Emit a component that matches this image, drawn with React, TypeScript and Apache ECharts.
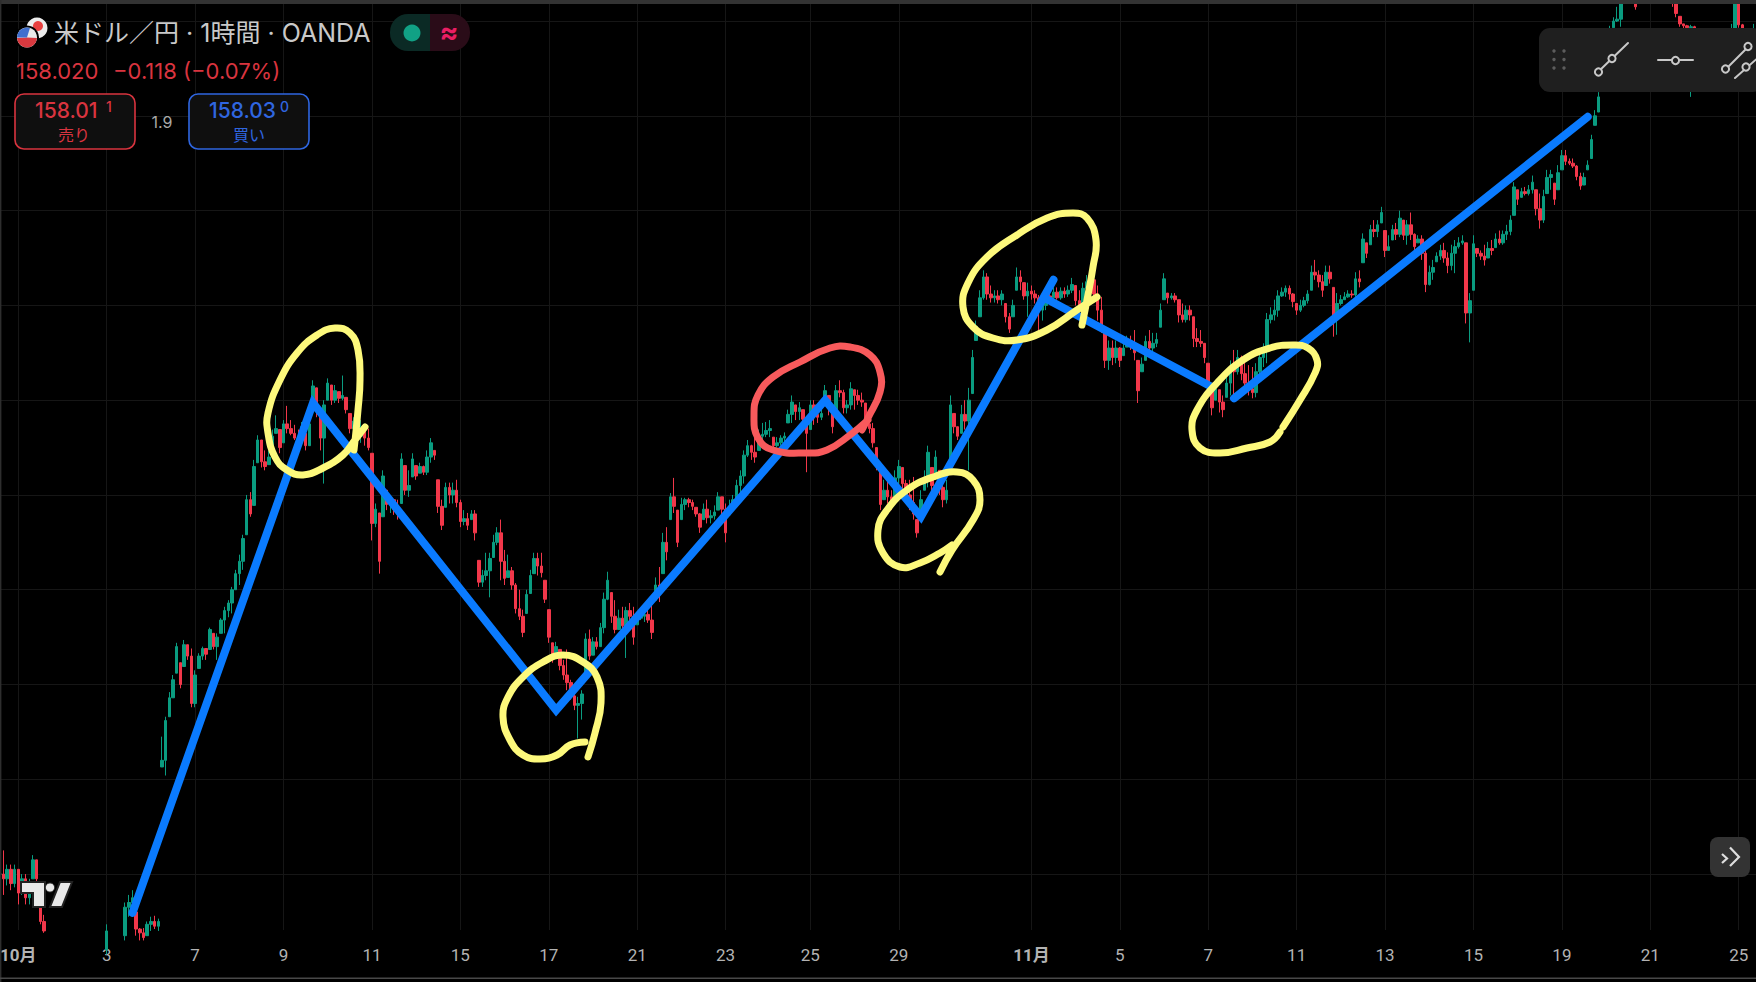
import React, { useEffect, useRef } from "react";
import * as echarts from "echarts";

// One entry per two-hour step (line k holds bars 10k..10k+9).
const closes = [
148.00,147.95,148.05,147.90,148.05,147.80,147.95,147.75,147.85,148.15,
147.95,147.50,147.40,147.15,147.08,147.00,147.05,147.02,146.90,146.95,
147.00,147.08,147.12,147.10,147.05,147.10,147.18,147.15,147.20,147.40,
147.18,147.25,147.30,147.35,147.65,147.70,147.75,147.42,147.38,147.33,
147.47,147.50,147.45,147.50,149.20,149.62,149.86,150.05,150.40,150.00,
150.42,150.30,149.80,150.10,150.30,150.38,150.32,150.58,150.40,150.50,
150.68,150.78,150.86,151.00,151.17,151.30,151.54,151.95,151.80,152.30,
152.58,152.35,152.30,152.40,152.62,152.70,152.50,152.75,152.70,152.65,
152.60,152.55,152.72,152.52,152.75,153.15,152.90,152.60,152.95,153.18,
153.00,153.10,153.02,153.05,152.90,152.70,152.78,152.62,152.72,152.60,
152.50,151.70,151.85,151.30,152.20,151.90,151.95,151.85,151.80,152.38,
152.05,152.10,152.38,152.20,152.30,152.24,152.40,152.55,152.42,151.88,
151.68,152.08,152.00,152.05,151.92,151.72,151.75,151.68,151.80,151.60,
151.08,151.15,151.20,151.33,151.50,151.60,151.30,151.12,151.20,151.05,
150.80,150.72,150.55,150.95,151.15,151.33,151.25,151.18,150.90,150.50,
150.28,150.40,150.20,150.10,150.02,149.88,149.78,149.80,149.90,150.48,
150.30,150.45,150.40,150.60,150.90,151.10,150.72,150.58,150.70,150.62,
150.78,150.72,150.50,150.70,150.72,150.74,150.68,150.55,151.05,150.95,
151.50,151.40,151.98,151.88,151.50,151.90,151.95,151.92,151.88,151.80,
151.66,151.85,151.76,151.78,151.82,151.98,151.85,151.60,151.88,151.95,
152.10,152.20,152.42,152.52,152.45,152.40,152.62,152.64,152.68,152.70,
152.52,152.55,152.60,152.62,152.85,152.98,152.88,152.92,152.80,152.65,
152.95,152.85,152.82,152.86,153.10,152.92,152.72,153.10,153.08,152.92,
152.95,153.12,153.05,153.00,152.98,152.75,152.70,152.55,152.30,151.90,
152.05,151.98,151.90,152.18,152.30,152.12,152.00,151.92,151.80,151.60,
151.95,152.18,152.45,152.10,152.40,152.08,151.95,152.05,152.95,152.72,
152.62,152.85,152.78,153.00,153.45,153.78,154.08,154.30,154.12,154.08,
154.10,154.06,154.12,153.88,153.75,154.00,154.30,154.25,154.10,154.15,
154.12,154.08,153.95,154.00,154.10,154.08,154.14,154.08,154.15,154.12,
154.16,154.22,154.05,153.98,154.18,154.25,154.28,154.12,153.95,153.78,
153.42,153.55,153.45,153.55,153.42,153.55,153.62,153.58,153.50,153.10,
153.38,153.62,153.55,153.60,153.64,153.95,154.28,154.08,154.10,154.06,
153.90,153.85,153.95,153.90,153.65,153.62,153.60,153.45,153.18,152.92,
153.12,152.98,152.90,153.18,153.35,153.30,153.45,153.28,153.18,153.12,
153.08,153.30,153.45,153.55,153.85,153.90,153.95,154.10,154.14,154.18,
154.12,154.04,153.95,154.00,154.05,154.12,154.35,154.32,154.25,154.16,
154.35,154.28,153.85,154.02,154.06,154.09,154.12,154.11,154.28,154.25,
154.70,154.55,154.80,154.78,154.85,154.98,154.58,154.62,154.80,154.75,
154.92,154.74,154.85,154.75,154.62,154.70,154.55,154.22,154.35,154.40,
154.52,154.58,154.50,154.42,154.55,154.62,154.66,154.68,153.92,154.05,
154.65,154.55,154.52,154.48,154.60,154.58,154.70,154.66,154.75,154.78,
154.90,155.25,155.12,155.20,155.18,155.22,155.30,155.02,154.90,155.15,
155.35,155.38,155.12,155.40,155.58,155.52,155.50,155.47,155.36,155.26,
155.35,155.48,155.75,156.00,156.20,156.50,156.72,156.90,157.00,157.02,
157.30,157.45,157.62,157.40,157.15,157.38,157.48,157.62,157.78,157.65,
157.52,157.60,157.50,157.55,157.20,157.08,156.97,156.95,156.93,156.94,
156.78,156.65,156.50,156.55,156.62,156.58,156.65,156.72,156.68,156.80,
156.92,157.30,156.96,156.82,156.72,156.78,156.90,
];
const highs = [
148.36,148.25,148.10,148.10,148.10,148.05,148.00,148.00,147.95,148.20,
148.15,147.68,147.57,147.35,147.25,147.20,147.15,147.18,147.10,147.05,
147.10,147.15,147.20,147.25,147.22,147.18,147.25,147.30,147.28,147.47,
147.35,147.30,147.38,147.40,147.70,147.78,147.83,147.60,147.43,147.43,
147.50,147.55,147.56,147.53,149.45,149.66,149.92,150.10,150.44,150.23,
150.47,150.42,150.38,150.15,150.33,150.40,150.38,150.60,150.54,150.54,
150.70,150.82,150.89,151.03,151.21,151.37,151.58,152.00,152.03,152.37,
152.63,152.58,152.47,152.47,152.69,152.84,152.69,152.79,152.94,152.79,
152.74,152.69,152.77,152.65,152.79,153.21,153.13,152.86,153.00,153.23,
153.16,153.16,153.09,153.26,153.03,152.86,152.82,152.79,152.79,152.74,
152.70,152.44,151.91,151.81,152.26,152.05,151.98,151.95,151.95,152.44,
152.31,152.26,152.44,152.31,152.34,152.31,152.47,152.60,152.47,152.16,
151.95,152.13,152.13,152.13,152.16,151.95,151.84,151.81,151.84,151.84,
151.31,151.21,151.39,151.39,151.58,151.66,151.74,151.42,151.37,151.24,
151.07,151.00,150.79,151.00,151.21,151.39,151.39,151.39,151.10,150.79,
150.44,150.45,150.37,150.26,150.37,150.05,149.94,149.87,149.94,150.54,
150.58,150.50,150.50,150.65,150.97,151.19,150.97,150.89,150.79,150.82,
150.82,150.86,150.82,150.75,150.75,150.79,150.79,150.89,151.13,151.24,
151.60,151.66,152.02,152.18,151.84,151.97,151.97,151.97,151.95,151.87,
151.81,151.91,151.95,151.84,151.89,152.03,151.98,151.91,151.95,152.00,
152.16,152.26,152.47,152.58,152.53,152.63,152.69,152.76,152.77,152.79,
152.61,152.61,152.63,152.66,152.90,153.05,152.95,152.98,152.90,152.82,
153.00,153.00,152.90,152.92,153.16,153.05,152.90,153.16,153.21,153.11,
153.00,153.19,153.11,153.11,153.08,152.97,152.84,152.76,152.50,152.26,
152.16,152.16,152.05,152.26,152.37,152.29,152.16,152.16,152.19,151.74,
152.05,152.26,152.52,152.29,152.47,152.26,152.16,152.16,153.05,152.86,
152.72,152.95,153.00,153.13,153.53,153.84,154.16,154.37,154.34,154.21,
154.16,154.16,154.16,154.02,153.92,154.06,154.40,154.37,154.24,154.24,
154.21,154.16,154.11,154.06,154.16,154.16,154.19,154.19,154.19,154.19,
154.21,154.29,154.21,154.16,154.24,154.32,154.37,154.27,154.21,154.09,
153.71,153.63,153.63,153.63,153.56,153.63,153.68,153.68,153.74,153.42,
153.45,153.68,153.74,153.71,153.71,154.02,154.34,154.13,154.13,154.13,
154.06,154.02,154.00,154.00,153.88,153.76,153.74,153.60,153.39,153.14,
153.18,153.11,153.05,153.24,153.42,153.53,153.53,153.47,153.42,153.37,
153.35,153.39,153.53,153.60,153.92,153.98,154.06,154.16,154.19,154.21,
154.21,154.13,154.02,154.06,154.09,154.16,154.42,154.48,154.37,154.32,
154.42,154.42,154.19,154.13,154.11,154.14,154.16,154.16,154.35,154.37,
154.76,154.66,154.85,154.90,154.90,155.04,154.79,154.74,154.85,154.87,
155.00,154.90,154.90,154.98,154.76,154.74,154.74,154.58,154.42,154.48,
154.56,154.64,154.66,154.56,154.64,154.69,154.72,154.74,154.66,154.13,
154.74,154.60,154.58,154.64,154.67,154.69,154.76,154.79,154.79,154.85,
154.95,155.30,155.22,155.24,155.25,155.27,155.37,155.22,155.18,155.22,
155.43,155.43,155.29,155.48,155.64,155.64,155.55,155.55,155.48,155.40,
155.40,155.53,155.80,156.06,156.25,156.59,156.80,156.95,157.04,157.15,
157.40,157.55,157.70,157.60,157.50,157.45,157.55,157.70,157.85,157.89,
157.75,157.70,157.72,157.65,157.60,157.30,157.05,156.97,156.96,156.96,
156.95,156.85,156.75,156.60,156.70,156.72,156.70,156.80,156.85,156.90,
156.97,157.40,157.30,156.97,156.88,156.85,156.97,
];
const lows = [
147.88,147.78,147.88,147.83,147.86,147.68,147.78,147.68,147.68,147.95,
147.90,147.47,147.38,147.10,147.02,146.95,146.90,146.95,146.85,146.80,
146.88,146.92,147.00,147.02,147.00,146.95,147.05,147.08,147.05,147.15,
147.10,147.08,147.15,147.12,147.30,147.55,147.62,147.35,147.30,147.30,
147.35,147.40,147.42,147.40,149.13,149.04,149.66,149.86,150.12,149.96,
150.19,150.26,149.76,149.76,150.17,150.26,150.26,150.37,150.37,150.26,
150.54,150.54,150.71,150.75,151.00,151.05,151.21,151.58,151.77,151.89,
152.34,152.29,152.26,152.32,152.47,152.65,152.44,152.55,152.65,152.63,
152.58,152.50,152.58,152.47,152.52,153.00,152.82,152.47,152.12,153.00,
152.95,152.97,152.97,153.00,152.86,152.65,152.47,152.58,152.55,152.52,
152.47,151.52,151.66,151.17,151.77,151.84,151.81,151.79,151.74,151.91,
152.00,151.98,152.19,152.16,152.23,152.21,152.21,152.34,152.37,151.81,
151.63,151.87,151.91,151.91,151.87,151.66,151.68,151.63,151.74,151.52,
151.03,151.03,151.10,150.92,151.34,151.47,151.10,151.05,151.13,151.00,
150.75,150.68,150.50,150.75,150.96,151.17,151.15,151.13,150.86,150.44,
150.23,150.29,150.15,150.05,149.94,149.84,149.73,149.43,149.63,150.05,
150.26,150.31,150.37,150.40,150.54,150.89,150.65,150.54,150.58,150.58,
150.28,150.68,150.42,150.63,150.68,150.66,150.65,150.48,150.89,150.87,
151.17,151.31,151.74,151.81,151.45,151.74,151.84,151.87,151.84,151.77,
151.60,151.74,151.70,151.70,151.74,151.84,151.79,151.50,151.79,151.84,
151.95,152.02,152.12,152.40,152.37,152.34,152.47,152.58,152.61,152.61,
152.47,152.50,152.52,152.55,152.76,152.76,152.79,152.79,152.74,152.24,
152.69,152.74,152.76,152.79,153.00,152.84,152.65,152.90,153.03,152.86,
152.86,152.90,152.90,152.95,152.93,152.69,152.65,152.50,152.26,151.84,
151.95,151.91,151.84,151.98,152.10,152.05,151.91,151.84,151.74,151.55,
151.81,152.05,152.08,152.02,152.19,152.00,151.87,151.91,152.37,152.65,
152.58,152.65,152.69,152.26,153.07,153.63,153.88,154.06,154.06,154.03,
154.03,154.02,154.00,153.82,153.71,153.88,154.16,154.16,154.06,153.88,
154.06,154.02,153.68,153.84,153.95,154.02,154.06,154.06,154.06,154.08,
154.09,154.13,154.00,153.93,153.92,154.08,154.09,154.06,153.84,153.71,
153.34,153.32,153.37,153.39,153.35,153.47,153.56,153.53,153.42,152.97,
153.30,153.42,153.47,153.45,153.56,153.77,154.06,154.02,154.06,154.03,
153.82,153.82,153.82,153.84,153.56,153.56,153.56,153.39,153.11,152.84,
153.00,152.87,152.82,153.03,153.05,153.00,153.27,153.21,153.11,153.05,
153.02,153.03,153.27,153.35,153.39,153.81,153.84,153.88,154.09,154.09,
154.06,153.98,153.90,153.93,153.98,154.02,154.16,154.27,154.19,154.09,
154.21,154.23,153.67,153.69,154.00,154.06,154.08,154.08,154.09,154.19,
154.45,154.50,154.64,154.72,154.72,154.87,154.51,154.58,154.69,154.69,
154.72,154.69,154.64,154.69,154.58,154.66,154.48,154.14,154.21,154.27,
154.46,154.48,154.45,154.34,154.37,154.34,154.60,154.64,153.81,153.61,
154.16,154.51,154.48,154.42,154.50,154.53,154.61,154.64,154.64,154.69,
154.74,154.95,155.06,155.14,155.16,155.16,155.18,154.95,154.81,154.87,
155.18,155.22,155.06,155.22,155.43,155.48,155.48,155.45,155.32,155.22,
155.27,155.43,155.55,155.90,156.04,156.27,156.48,156.75,156.93,156.99,
156.94,157.25,157.40,157.35,157.12,157.20,157.30,157.40,157.55,157.60,
157.45,157.40,157.45,157.35,157.15,157.04,156.94,156.92,156.90,156.20,
156.70,156.60,156.45,156.35,156.48,156.50,156.45,156.55,156.60,156.62,
156.75,156.90,156.93,156.75,156.65,156.60,156.70,
];

// Hand-drawn trend strokes: bar step and price of each vertex.
const trendOneSteps = [36, 85, 151, 224, 250, 286];
const trendOnePrices = [147.59, 152.97, 149.73, 153.0, 151.77, 154.27];
const trendTwoSteps = [284, 329];
const trendTwoPrices = [154.07, 153.14];
const trendThreeSteps = [335, 431];
const trendThreePrices = [153.02, 155.99];

const tickSteps = [5, 29, 53, 77, 101, 125, 149, 173, 197, 220, 244, 280, 304, 328, 352, 376, 400, 424, 448, 472];
const tickLabels = ["10月", "3", "7", "9", "11", "15", "17", "21", "23", "25", "29", "11月", "5", "7", "11", "13", "15", "19", "21", "25"];
const stepCount = 478;

const labelAt = new Map<number, string>(tickSteps.map((s, i) => [s, tickLabels[i]]));
const categories = Array.from({ length: stepCount }, (_, i) => labelAt.get(i) ?? String(i));
// Each bar opens where the previous one closed, held inside that bar's own high-low range.
const candleData = closes.map((c, i) => {
  const prev = i === 0 ? c : closes[i - 1];
  return [Math.min(Math.max(prev, lows[i]), highs[i]), c, lows[i], highs[i]];
});

const UI_FONT = 'Inter, "Noto Sans CJK JP", sans-serif';
const AXIS_FONT = 'Roboto, "Noto Sans CJK JP", sans-serif';
const YELLOW = "#fdf97c";
const RED_INK = "#f85a5c";
const SELL = "#d9343f";
const BUY = "#2f66e0";

const txt = (text: string, x: number, y: number, size: number, fill: string, align = "left", weight = "normal") => ({
  type: "text", x, y, z: 30,
  style: { text, fill, font: `${weight} ${size}px ${UI_FONT}`, textAlign: align, textVerticalAlign: "middle" },
});
const ink = (points: number[][], stroke: string) => ({
  type: "polyline", z: 20,
  shape: { points, smooth: 0.45 },
  style: { stroke, lineWidth: 7, fill: null, lineCap: "round", lineJoin: "round" },
});
const seg = (x1: number, y1: number, x2: number, y2: number, stroke = "#c8c8c8", lineWidth = 2, z = 31) => ({
  type: "line", z, shape: { x1, y1, x2, y2 }, style: { stroke, lineWidth, lineCap: "round" },
});
const knob = (cx: number, cy: number) => ({
  type: "circle", z: 32, shape: { cx, cy, r: 3.6 }, style: { fill: "#1f1f1f", stroke: "#c8c8c8", lineWidth: 2 },
});
const box = (x: number, y: number, width: number, height: number, fill: string, r: any = 0, stroke?: string, z = 29, lineWidth = 1.6) => ({
  type: "rect", z, shape: { x, y, width, height, r }, style: { fill, stroke: stroke ?? null, lineWidth },
});

const overlays: any[] = [
  // frame
  box(0, 0, 1756, 4, "#333333", 0, undefined, 40),
  box(0, 0, 1.4, 982, "#2e2e2e", 0, undefined, 40),
  box(0, 977.5, 1756, 1.4, "#484848", 0, undefined, 40),
  // hand-drawn loops
  ink([[365,427],[355,440],[343,455],[323,468],[303,475],[287,470],[275,457],[268,433],[268,413],[280,380],[297,353],[317,335],[335,328],[350,333],[358,350],[360,380],[358,410],[354,450]], YELLOW),
  ink([[588,757],[595,733],[601,703],[597,677],[583,662],[563,655],[543,662],[523,677],[508,697],[503,717],[510,740],[523,755],[540,759],[557,755],[570,745],[585,742]], YELLOW),
  ink([[862,430],[868,418],[880,392],[880,372],[870,355],[850,347],[830,348],[800,362],[773,377],[758,395],[754,415],[758,438],[773,450],[807,453],[827,450],[850,435],[868,420]], RED_INK),
  ink([[940,572],[952,550],[973,520],[980,500],[973,480],[957,472],[933,477],[907,490],[887,510],[878,530],[883,553],[900,567],[920,563],[940,553],[952,545]], YELLOW),
  ink([[1082,325],[1087,300],[1093,267],[1096,240],[1087,218],[1073,213],[1047,218],[1017,235],[987,257],[968,283],[963,307],[973,327],[993,338],[1017,340],[1047,330],[1077,310],[1097,297]], YELLOW),
  ink([[1283,427],[1300,400],[1315,373],[1317,360],[1308,348],[1293,345],[1270,348],[1243,360],[1217,383],[1197,410],[1192,430],[1200,448],[1220,453],[1247,448],[1270,442],[1280,432]], YELLOW),
  // header
  { type: "circle", z: 28, shape: { cx: 37, cy: 28, r: 10.5 }, style: { fill: "#ececec" } },
  { type: "circle", z: 28, shape: { cx: 38, cy: 26, r: 5 }, style: { fill: "#e8403f" } },
  { type: "circle", z: 28, shape: { cx: 27, cy: 37.5, r: 12 }, style: { fill: "#000" } },
  { type: "circle", z: 28, shape: { cx: 27, cy: 37.5, r: 10 }, style: { fill: "#e9e9e9" } },
  { type: "sector", z: 28, shape: { cx: 27, cy: 37.5, r: 10, r0: 0, startAngle: 0.05, endAngle: Math.PI - 0.05 }, style: { fill: "#d8393f" } },
  { type: "sector", z: 28, shape: { cx: 27, cy: 37.5, r: 10, r0: 0, startAngle: Math.PI, endAngle: Math.PI * 1.5 + 0.3 }, style: { fill: "#3f6fce" } },
  txt("米ドル／円 · 1時間 · OANDA", 54, 33, 25, "#c9c9c9"),
  { type: "rect", z: 28, shape: { x: 390, y: 14, width: 40, height: 37, r: [18, 0, 0, 18] }, style: { fill: "#0b2a25" } },
  { type: "rect", z: 28, shape: { x: 430, y: 14, width: 40, height: 37, r: [0, 18, 18, 0] }, style: { fill: "#2a0c18" } },
  { type: "circle", z: 29, shape: { cx: 412, cy: 33, r: 8.5 }, style: { fill: "#11a185" } },
  txt("≈", 449, 32, 28, "#e91e63", "center", "bold"),
  txt("158.020", 16, 71, 22, SELL),
  txt("−0.118 (−0.07%)", 113, 71, 22, SELL),
  box(15, 94, 120, 55, "#0f0f0f", 9, SELL),
  txt("158.01", 35, 110, 21, SELL, "left", "500"),
  txt("1", 106, 106, 14, SELL, "left", "500"),
  txt("売り", 74, 135, 16, SELL, "center"),
  txt("1.9", 162, 122, 16, "#a9a9a9", "center"),
  box(189, 94, 120, 55, "#0f0f0f", 9, BUY),
  txt("158.03", 209, 110, 21, BUY, "left", "500"),
  txt("0", 280, 106, 14, BUY, "left", "500"),
  txt("買い", 249, 135, 16, BUY, "center"),
  // toolbar
  { type: "rect", z: 29, shape: { x: 1539, y: 28, width: 225, height: 64, r: 11 }, style: { fill: "#1f1f1f" } },
  ...[51, 59.5, 68].flatMap((cy) => [1554, 1564].map((cx) => ({ type: "circle", z: 30, shape: { cx, cy, r: 1.7 }, style: { fill: "#5c5c5c" } }))),
  seg(1598, 72, 1628, 43),
  knob(1598.5, 72),
  knob(1612, 58.5),
  seg(1658, 60, 1693, 60),
  knob(1675.5, 60.5),
  seg(1726, 69, 1748, 47),
  knob(1725.5, 69),
  knob(1748, 46.5),
  seg(1735, 78, 1760, 56),
  knob(1746, 67),
  // watermark
  { type: "polygon", z: 25, shape: { points: [[21, 882], [45, 882], [45, 907], [33, 907], [33, 893], [21, 893]] }, style: { fill: "#e9e9e9", stroke: "#222", lineWidth: 2 } },
  { type: "circle", z: 25, shape: { cx: 50, cy: 887.5, r: 4.6 }, style: { fill: "#e9e9e9", stroke: "#222", lineWidth: 1 } },
  { type: "polygon", z: 25, shape: { points: [[60, 882], [72, 882], [62, 907], [50, 907]] }, style: { fill: "#e9e9e9", stroke: "#222", lineWidth: 2 } },
  // scroll button
  box(1710, 837, 40, 40, "#333333", 8),
  { type: "polyline", z: 31, shape: { points: [[1730, 847.5], [1739, 857], [1730, 866]] }, style: { stroke: "#dedede", lineWidth: 2.2, fill: null } },
  { type: "polyline", z: 31, shape: { points: [[1722, 854], [1727, 858.5], [1722, 863]] }, style: { stroke: "#dedede", lineWidth: 2.2, fill: null } },
];

const trendSeries = (steps: number[], prices: number[]) => ({
  type: "line",
  data: steps.map((s, i) => [s, prices[i]]),
  symbol: "none",
  z: 5,
  silent: true,
  lineStyle: { color: "#0a7bff", width: 8, cap: "round", join: "miter" },
});

export default function App() {
  const ref = useRef<HTMLDivElement>(null);
  useEffect(() => {
    document.body.style.margin = "0";
    document.body.style.background = "#000";
    const chart = echarts.init(ref.current!, undefined, { renderer: "svg" });
    chart.setOption({
      animation: false,
      backgroundColor: "#000000",
      grid: { left: -2, right: -3, top: 4, bottom: 52, outerBoundsMode: "none" },
      xAxis: {
        type: "category",
        data: categories,
        boundaryGap: true,
        axisLine: { show: false },
        axisTick: { show: false, alignWithLabel: true },
        axisLabel: {
          interval: (i: number) => labelAt.has(i),
          margin: 16,
          color: "#b3b3b3",
          fontSize: 17,
          fontFamily: AXIS_FONT,
          hideOverlap: false,
          formatter: (v: string) => (v.endsWith("月") ? `{b|${v}}` : v),
          rich: { b: { fontWeight: "bold", fontSize: 17, color: "#b3b3b3", fontFamily: AXIS_FONT } },
        },
        splitLine: {
          show: true,
          alignWithLabel: true,
          interval: (i: number) => labelAt.has(i),
          lineStyle: { color: "#161616", width: 1 },
        },
      },
      yAxis: {
        type: "value",
        min: 147.41,
        max: 157.18,
        splitNumber: 10,
        axisLine: { show: false },
        axisTick: { show: false },
        axisLabel: { show: false },
        splitLine: { show: true, showMinLine: false, showMaxLine: false, lineStyle: { color: "#161616", width: 1 } },
      },
      series: [
        {
          type: "candlestick",
          data: candleData,
          barWidth: 3,
          clip: true,
          z: 2,
          itemStyle: { color: "#0a9c80", color0: "#f2374a", borderColor: "#0a9c80", borderColor0: "#f2374a", borderWidth: 1 },
        },
        trendSeries(trendOneSteps, trendOnePrices),
        trendSeries(trendTwoSteps, trendTwoPrices),
        trendSeries(trendThreeSteps, trendThreePrices),
      ],
      graphic: { elements: overlays },
    });
    return () => chart.dispose();
  }, []);
  return <div ref={ref} style={{ width: 1756, height: 982 }} />;
}
